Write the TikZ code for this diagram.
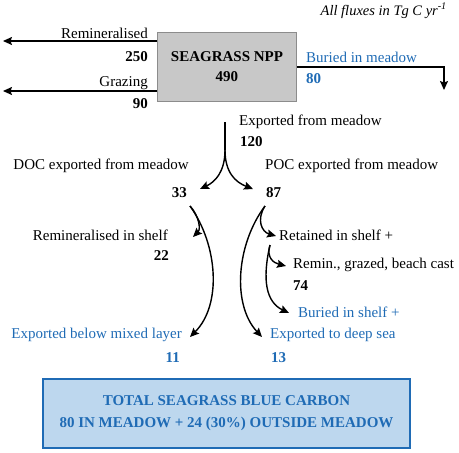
\documentclass[tikz,border=0pt]{standalone}
\usepackage{fontspec}
\setmainfont{Liberation Serif}
\usetikzlibrary{arrows.meta}
\definecolor{carbonblue}{HTML}{1F6BB5}
\definecolor{boxblue}{HTML}{BDD7EE}
\definecolor{boxgray}{HTML}{8C8C8C}
\definecolor{fillgray}{HTML}{C8C8C8}
\begin{document}
\begin{tikzpicture}[x=1pt,y=-1pt,>={Stealth[length=9pt,width=8pt,inset=1.5pt]},
        flux/.style={->,line width=1.4pt},
        lbl/.style={inner sep=0pt,font=\fontsize{15}{18}\selectfont},
        num/.style={inner sep=0pt,font=\fontsize{15}{18}\selectfont\bfseries},
        sink/.style={text=carbonblue}]
        \useasboundingbox (0,0) rectangle (459,453);
        % header and meadow box
        \node[inner sep=0pt,anchor=base east,font=\fontsize{14.5}{18}\selectfont\itshape] (units) at (447,15) {All fluxes in Tg C yr\textsuperscript{-1}};
        \node[draw=boxgray,line width=1.5pt,fill=fillgray,minimum width=139pt,minimum height=69pt,align=center,
              font=\fontsize{15}{20}\selectfont\bfseries] (npp) at (227,67) {SEAGRASS NPP\\490};
        % losses in meadow
        \node[lbl,anchor=base east] (remin) at (148,38) {Remineralised};
        \node[num,anchor=base east] (remin-n) at (148,61) {250};
        \node[lbl,anchor=base east] (graz) at (148,86) {Grazing};
        \node[num,anchor=base east] (graz-n) at (148,108) {90};
        \coordinate (remin-end) at (3,41);
        \coordinate (graz-end) at (3,91);
        \foreach \f in {remin,graz} \draw[flux] (npp.west |- \f-end) -- (\f-end);
        \node[lbl,sink,anchor=base west] (bur) at (306,62) {Buried in meadow};
        \node[num,sink,anchor=base west] (bur-n) at (306,83) {80};
        \coordinate (bur-end) at (444,90);
        \draw[flux] (npp.east) -| (bur-end);
        % export
        \node[lbl,anchor=base west] (exp) at (239,125) {Exported from meadow};
        \node[num,anchor=base west] (exp-n) at (240,146) {120};
        \coordinate (exp-top) at (225,122);
        \coordinate (split) at (225,150);
        \draw[line width=1.4pt] (exp-top) -- (split);
        \node[lbl,anchor=base east] (doc) at (189,169) {DOC exported from meadow};
        \node[num,anchor=base east] (doc-n) at (187,197) {33};
        \node[lbl,anchor=base west] (poc) at (265,169) {POC exported from meadow};
        \node[num,anchor=base west] (poc-n) at (266,197) {87};
        \coordinate (doc-tip) at (200,189);
        \coordinate (poc-tip) at (253,189);
        \draw[flux] (split) .. controls (225,172) and (215,182) .. (doc-tip);
        \draw[flux] (split) .. controls (225,172) and (235,182) .. (poc-tip);
        % DOC
        \coordinate (doc-out) at (190,206);
        \node[lbl,anchor=base east] (docshelf) at (168,240) {Remineralised in shelf};
        \node[num,anchor=base east] (docshelf-n) at (169,260) {22};
        \coordinate (docshelf-tip) at (193,237);
        \draw[flux] (doc-out) .. controls (199,216) and (201,229) .. (docshelf-tip);
        \node[lbl,sink,anchor=base east] (mixed) at (182,338) {Exported below mixed layer};
        \node[num,sink,anchor=base east] (mixed-n) at (180,362) {11};
        \coordinate (mixed-tip) at (190,337);
        \draw[flux] (doc-out) .. controls (218,245) and (222,305) .. (mixed-tip);
        % POC
        \coordinate (poc-out) at (265,206);
        \node[lbl,anchor=base west] (retain) at (279,240) {Retained in shelf +};
        \coordinate (retain-tip) at (276,236);
        \draw[flux] (poc-out) .. controls (256,220) and (262,232) .. (retain-tip);
        \node[lbl,sink,anchor=base west] (deep) at (270,338) {Exported to deep sea};
        \node[num,sink,anchor=base west] (deep-n) at (271,362) {13};
        \coordinate (deep-tip) at (262,337);
        \draw[flux] (poc-out) .. controls (236,245) and (232,305) .. (deep-tip);
        \coordinate (retain-out) at (270,245);
        \node[lbl,anchor=base west] (beach) at (293,268) {Remin., grazed, beach cast};
        \node[num,anchor=base west] (beach-n) at (293,290) {74};
        \coordinate (beach-tip) at (286,266);
        \draw[flux] (retain-out) .. controls (266,258) and (274,263) .. (beach-tip);
        \node[lbl,sink,anchor=base west] (shelfbur) at (298,317) {Buried in shelf +};
        \coordinate (shelfbur-tip) at (289,313);
        \draw[flux] (retain-out) .. controls (262,280) and (266,302) .. (shelfbur-tip);
        % total
        \node[draw=carbonblue,line width=2pt,fill=boxblue,minimum width=367pt,minimum height=69pt,align=center,text=carbonblue,
              font=\fontsize{15}{22}\selectfont\bfseries] (total) at (226.5,413.5) {TOTAL SEAGRASS BLUE CARBON\\80 IN MEADOW + 24 (30\%) OUTSIDE MEADOW};
      \end{tikzpicture}
\end{document}
